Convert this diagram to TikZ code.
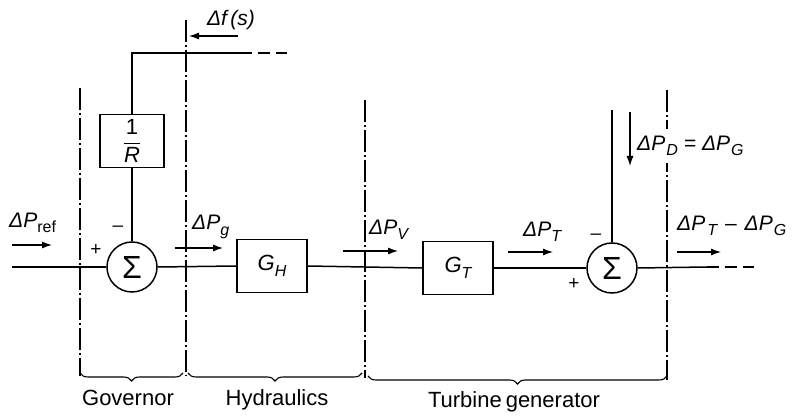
\documentclass[tikz,border=0pt]{standalone}
\usepackage{fontspec}
\setmainfont{Liberation Sans}
\usetikzlibrary{arrows.meta,decorations.pathreplacing}
\newcommand{\lsub}[1]{\raisebox{-0.5ex}{\fontsize{16}{16}\selectfont #1}}
\begin{document}
\begin{tikzpicture}[x=1pt,y=-1pt,
  lbl/.style={font=\fontsize{21}{24}\selectfont\itshape, inner sep=0pt},
  sgn/.style={font=\fontsize{19}{20}\selectfont, inner sep=0pt},
  sectlbl/.style={font=\fontsize{22}{26}\selectfont, inner sep=0pt},
  blk/.style={draw, line width=1.5pt, minimum width=70pt, minimum height=53pt, inner sep=0pt, font=\fontsize{22}{24}\selectfont\itshape},
  sumc/.style={draw, circle, line width=1.5pt, minimum size=50pt, inner sep=0pt, font=\fontsize{32}{34}\selectfont},
  wire/.style={line width=1.5pt},
  sig/.style={line width=1.1pt, -{Latex[length=10pt,width=7pt]}},
  dd/.style={line width=1.1pt, dash pattern=on 22pt off 3pt on 2pt off 3pt},
  br/.style={line width=1.1pt, decorate, decoration={brace, mirror, amplitude=8pt}}]
\useasboundingbox (0,0) rectangle (796,419);
% section lines (drawn first so labels can mask them)
\coordinate (v1a) at (80,88);   \coordinate (v1b) at (80,376);
\coordinate (v2a) at (186,20);  \coordinate (v2b) at (186,376);
\coordinate (v3a) at (365,100); \coordinate (v3b) at (365,378);
\coordinate (v4a) at (667,90);  \coordinate (v4b) at (667,380);
\draw[dd] (v1a) -- (v1b);
\draw[dd] (v2a) -- (v2b);
\draw[dd] (v3a) -- (v3b);
\draw[dd] (v4a) -- (v4b);
% blocks
\node[sumc] (s1) at (132,267) {\raisebox{-0.05ex}{Σ}};
\node[blk, minimum width=64pt] (rb) at (132,141) {$\displaystyle\frac{\textup{1}}{\textit{R}}$};
\node[blk] (gh) at (272,266) {G\lsub{H}};
\node[blk] (gt) at (458,268) {G\lsub{T}};
\node[sumc] (s2) at (612,268) {\raisebox{-0.05ex}{Σ}};
% coordinates
\coordinate (in) at (12,267);
\coordinate (fc) at (132,53);
\coordinate (f1) at (240,53);
\coordinate (f2) at (287,53);
\coordinate (dt) at (612,110);
\coordinate (o1) at (707,267);
\coordinate (o2) at (754,267);
% wires
\draw[wire] (in) -- (s1.west);
\draw[wire] (s1.east) -- (gh.west);
\draw[wire] (gh.east) -- (gt.west);
\draw[wire] (gt.east) -- (s2.west);
\draw[wire] (s2.east) -- (o1);
\draw[wire, dash pattern=on 12pt off 6pt] (o1) -- (o2);
\draw[wire] (s1.north) -- (rb.south);
\draw[wire] (rb.north) -- (fc) -- (f1);
\draw[wire, dash pattern=on 12pt off 6pt] (f1) -- (f2);
\draw[wire] (dt) -- (s2.north);
% braces
\coordinate (b1a) at (80,373);  \coordinate (b1b) at (183,373);
\coordinate (b2a) at (188,373); \coordinate (b2b) at (362,373);
\coordinate (b3a) at (368,376); \coordinate (b3b) at (667,376);
\draw[br] (b1a) -- (b1b);
\draw[br] (b2a) -- (b2b);
\draw[br] (b3a) -- (b3b);
\node[sectlbl] (lg) at (128,398) {Governor};
\node[sectlbl] (lh) at (277,400) {Hydraulics};
\node[sectlbl] (lt) at (514,402) {Turbine\hspace{4pt}generator};
% signal labels and arrows
\node[lbl] (lf) at (231,20) {Δf\,(s)};
\coordinate (af1) at (238,36); \coordinate (af2) at (189,36);
\draw[sig] (af1) -- (af2);
\node[lbl, anchor=west] (lref) at (9,223) {ΔP\lsub{\upshape ref}};
\coordinate (ar1) at (12,245); \coordinate (ar2) at (52,245);
\draw[sig] (ar1) -- (ar2);
\node[sgn] (p1) at (96,250) {+};
\node[sgn] (m1) at (118,229) {\textendash};
\node[lbl, anchor=west] (lg1) at (192,227) {ΔP\lsub{g}};
\coordinate (ag1) at (175,248); \coordinate (ag2) at (223,248);
\draw[sig] (ag1) -- (ag2);
\node[lbl, anchor=west] (lv) at (369,230) {ΔP\lsub{V}};
\coordinate (av1) at (343,251); \coordinate (av2) at (398,251);
\draw[sig] (av1) -- (av2);
\node[lbl, anchor=west] (lt1) at (523,232) {ΔP\lsub{T}};
\coordinate (at1) at (508,252); \coordinate (at2) at (553,252);
\draw[sig] (at1) -- (at2);
\node[sgn] (m2) at (596,237) {\textendash};
\node[sgn] (p2) at (574,284) {+};
\coordinate (ad1) at (630,112); \coordinate (ad2) at (630,166);
\draw[sig] (ad1) -- (ad2);
\node[lbl, anchor=west, fill=white, inner xsep=1pt, inner ysep=7pt] (ld) at (636,146) {ΔP\hspace{1pt}\lsub{D}\hspace{6pt}=\hspace{6pt}ΔP\hspace{1pt}\lsub{G}};
\node[lbl, anchor=west] (lo) at (677,226) {ΔP\hspace{2pt}\lsub{T}\hspace{8pt}\textendash\hspace{8pt}ΔP\hspace{1pt}\lsub{G}};
\coordinate (ao1) at (677,252); \coordinate (ao2) at (721,252);
\draw[sig] (ao1) -- (ao2);
\end{tikzpicture}
\end{document}
